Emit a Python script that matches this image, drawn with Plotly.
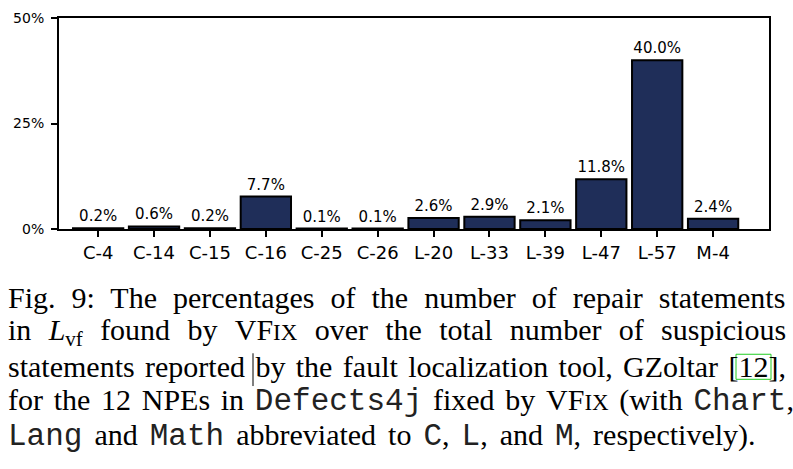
import plotly.graph_objects as go

categories = ["C-4", "C-14", "C-15", "C-16", "C-25", "C-26",
              "L-20", "L-33", "L-39", "L-47", "L-57", "M-4"]
percentages = [0.2, 0.6, 0.2, 7.7, 0.1, 0.1, 2.6, 2.9, 2.1, 11.8, 40.0, 2.4]
y_ticks = [0, 25, 50]
y_tick_labels = ["0%", "25%", "50%"]

W, H = 793, 469
L, R, T, B = 59, 24, 10, 240
PW, PH = W - L - R, H - T - B

fig = go.Figure()
fig.add_trace(go.Bar(
    x=categories, y=percentages, width=0.9,
    marker=dict(color="#1f2e59", line=dict(color="black", width=2)),
    text=[f"{v:.1f}%" for v in percentages], textposition="outside",
    textfont=dict(family="DejaVu Sans", size=15, color="black"),
    cliponaxis=False, showlegend=False,
))

fig.update_layout(
    width=W, height=H, margin=dict(l=L, r=R, t=T, b=B),
    paper_bgcolor="white", plot_bgcolor="white",
    bargap=0.1,
    xaxis=dict(range=[-0.7, 12.0], showline=True, linecolor="black", linewidth=2,
               mirror=True, ticks="outside", ticklen=6, tickwidth=2, tickcolor="black",
               tickfont=dict(family="DejaVu Sans", size=18, color="black"),
               showgrid=False, zeroline=False, fixedrange=True),
    yaxis=dict(range=[0, 50], showline=True, linecolor="black", linewidth=2,
               mirror=True, ticks="outside", ticklen=6, tickwidth=2, tickcolor="black",
               tickvals=y_ticks, ticktext=y_tick_labels, ticklabelstandoff=4,
               tickfont=dict(family="DejaVu Sans", size=14, color="black"),
               showgrid=False, zeroline=False, fixedrange=True),
)

def px(x):
    return (x - L) / PW

def py(y):
    return (T + PH - y) / PH

SERIF = "Liberation Serif"
MONO = "Liberation Mono"
vfix = "VF<span style='font-size:23px'>IX</span>"

def ws(s, sp):
    return f"<span style='word-spacing:{sp}px'>{s}</span>"

def mono(s):
    return f"<span style='font-family:{MONO};font-size:31px;color:#222'>{s}</span>"

lines = [
    ws("Fig. 9: The percentages of the number of repair statements", 8.5),
    (ws("in ", 9.8) + "<i>L</i><sub>vf</sub>" + ws(" found by ", 9.8) + vfix +
     ws(" over the total number of suspicious", 9.8)),
    ws("statements reported by the fault localization tool, GZoltar [12],", 2.9),
    (ws("for the 12 NPEs in ", 3.2) + mono("Defects4j") + ws(" fixed by ", 3.2) + vfix +
     ws(" (with ", 3.2) + mono("Chart") + ","),
    (mono("Lang") + ws(" and ", 4.5) + mono("Math") + ws(" abbreviated to ", 4.5) +
     mono("C") + ws(", ", 4.5) + mono("L") + ws(", and ", 4.5) + mono("M") +
     ws(", respectively).", 4.5)),
]
baselines = [310, 346, 382, 418, 454]
for txt, bl in zip(lines, baselines):
    fig.add_annotation(
        x=px(6), y=py(bl - 10), xref="paper", yref="paper",
        xanchor="left", yanchor="middle", showarrow=False, align="left",
        text=txt, font=dict(family=SERIF, size=30, color="black"),
    )

# green citation box around "12" and the text cursor
fig.add_shape(type="rect", xref="paper", yref="paper",
              x0=px(736), x1=px(771), y0=py(385), y1=py(359),
              line=dict(color="#22cc22", width=1))
fig.add_shape(type="line", xref="paper", yref="paper",
              x0=px(253), x1=px(253), y0=py(392), y1=py(358),
              line=dict(color="black", width=1))

fig.write_html("out.html")
